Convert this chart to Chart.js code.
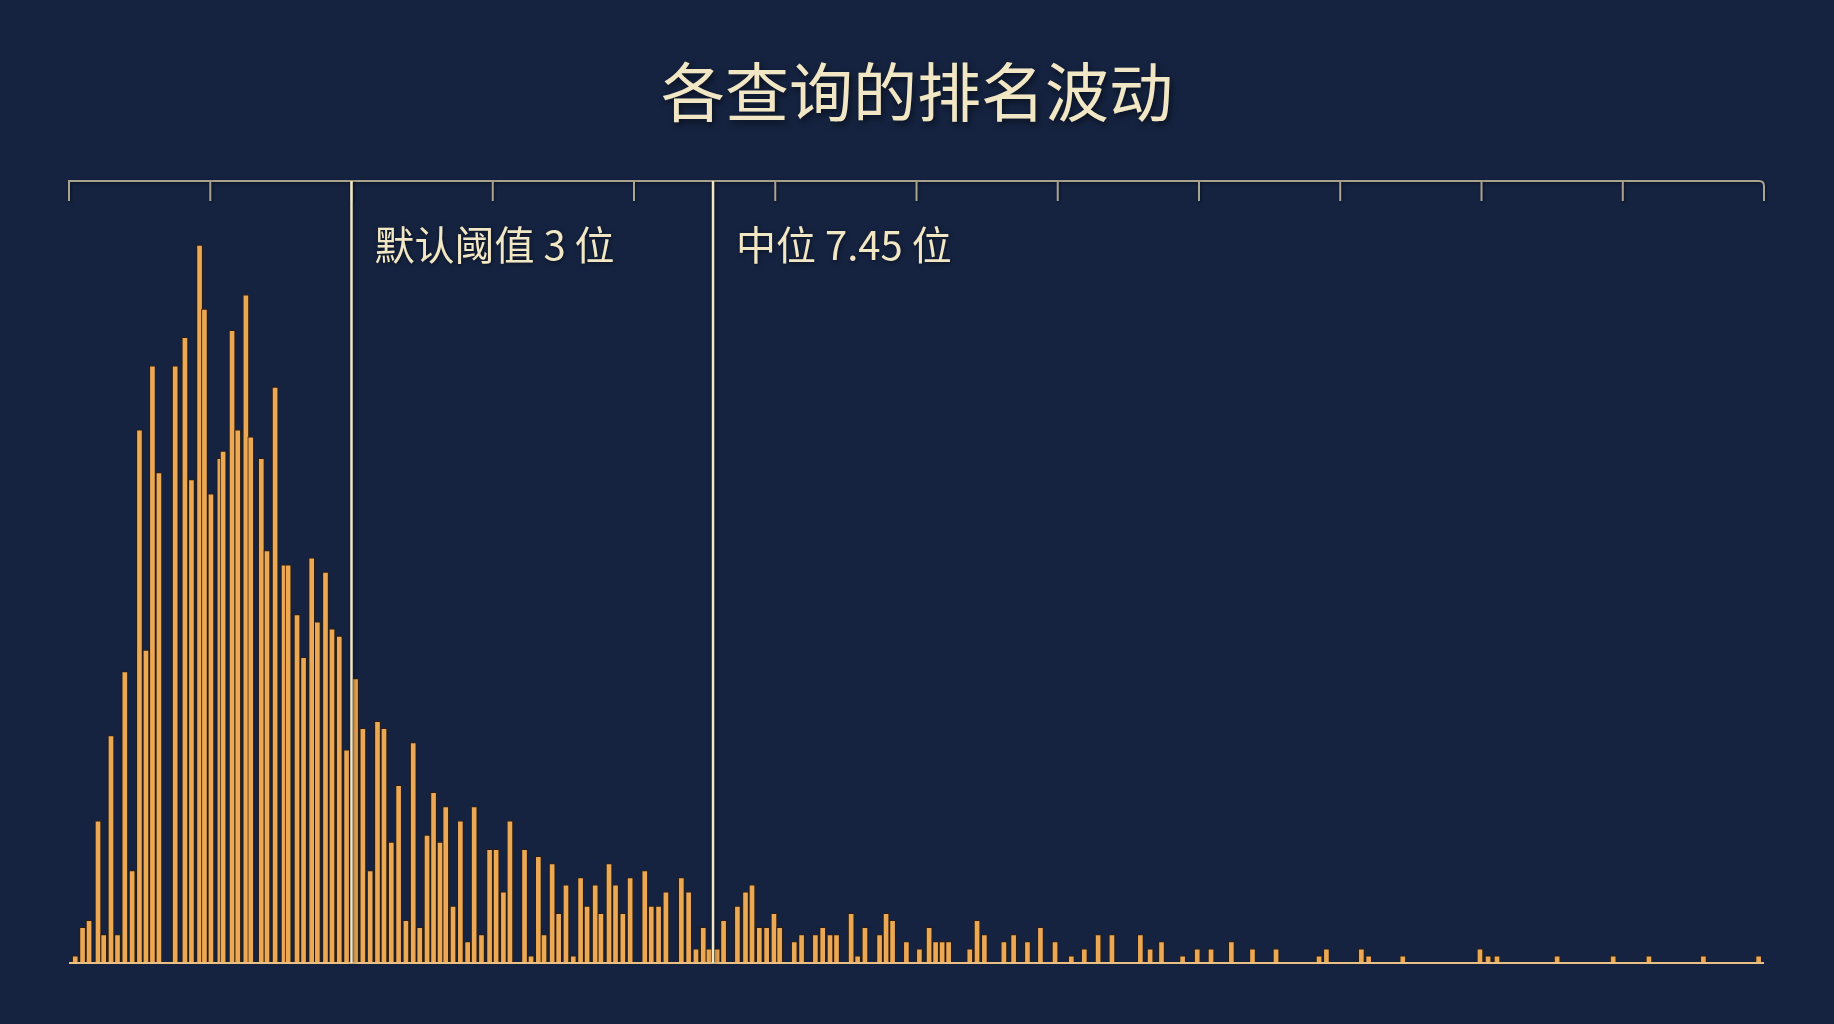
<!DOCTYPE html>
<html lang="zh">
<head>
<meta charset="utf-8">
<title>各查询的排名波动</title>
<script src="https://cdn.jsdelivr.net/npm/chart.js@4.4.1/dist/chart.umd.min.js"></script>
<style>
  html, body { margin: 0; padding: 0; background: #152340; overflow: hidden; }
  #wrap { width: 1834px; height: 1024px; position: relative; }
</style>
</head>
<body>
<div id="wrap"><canvas id="chart"></canvas></div>
<script>
const chartTitle = '各查询的排名波动';

// rank fluctuation (positions) of each bar, and how many queries fall there
const binPos = [
  -0.40, -0.31, -0.23, -0.12, -0.05, 0.04, 0.12, 0.21, 0.30, 0.39,
  0.47, 0.55, 0.63, 0.83, 0.95, 1.03, 1.13, 1.19, 1.27, 1.38,
  1.42, 1.53, 1.60, 1.70, 1.76, 1.89, 1.96, 2.06, 2.17, 2.22,
  2.33, 2.41, 2.51, 2.58, 2.68, 2.76, 2.85, 2.94,
  3.05, 3.14, 3.23, 3.32, 3.40, 3.49, 3.58, 3.67, 3.76, 3.84,
  3.93, 4.01, 4.09, 4.16, 4.25, 4.34, 4.43, 4.51, 4.60, 4.70,
  4.78, 4.87, 4.95, 5.13, 5.21, 5.30, 5.37, 5.47, 5.55, 5.64,
  5.73, 5.82, 5.90, 6.00, 6.07, 6.17, 6.25, 6.34, 6.43, 6.61,
  6.69, 6.78, 6.87, 7.06, 7.15, 7.24, 7.33, 7.40, 7.50, 7.58,
  7.75, 7.85, 7.93, 8.02, 8.11, 8.20, 8.27, 8.45, 8.54, 8.71,
  8.80, 8.89, 8.97, 9.15, 9.23, 9.32, 9.50, 9.58, 9.66, 9.83,
  9.99, 10.11, 10.19, 10.27, 10.35, 10.61, 10.70, 10.79, 11.03, 11.15,
  11.32, 11.48, 11.66, 11.86,
  12.02, 12.19, 12.36, 12.71, 12.83, 12.97, 13.23, 13.41, 13.58, 13.83,
  14.09, 14.38, 14.91, 15.00, 15.43, 15.52, 15.94, 16.89, 16.99, 17.10,
  17.84, 18.53, 18.97, 19.64, 20.32
];
const binCount = [
  1, 5, 6, 20, 4, 32, 4, 41, 13, 75,
  44, 84, 69, 84, 88, 68, 101, 92, 66, 71,
  72, 89, 75, 94, 74, 71, 58, 81, 56, 56,
  49, 43, 57, 48, 55, 47, 46, 30,
  40, 33, 13, 34, 33, 17, 25, 6, 31, 5,
  18, 24, 17, 22, 8, 20, 3, 22, 4, 16,
  16, 10, 20, 16, 1, 15, 4, 14, 7, 11,
  1, 12, 8, 11, 7, 14, 11, 7, 12, 13,
  8, 8, 10, 12, 10, 2, 5, 2, 2, 6,
  8, 10, 11, 5, 5, 7, 5, 3, 4, 4,
  5, 4, 4, 7, 1, 5, 4, 7, 6, 3,
  2, 5, 3, 3, 3, 2, 6, 4, 3, 4,
  3, 5, 3, 1,
  2, 4, 4, 4, 2, 3, 1, 2, 2, 3,
  2, 2, 1, 2, 2, 1, 1, 2, 1, 1,
  1, 1, 1, 1, 1
];

// unlabeled tick marks along the top axis
const axisTicks = [-0.477, 1.262, 3.000, 4.739, 6.477, 8.216, 9.955, 11.693, 13.432, 15.170, 16.909, 18.648, 20.386];

const refLines = [
  { value: 3, label: '默认阈值 3 位' },
  { value: 7.45, label: '中位 7.45 位' }
];

const cream = '#f2e7c4';
const fontCJK = '"Noto Sans CJK SC", "Noto Sans", sans-serif';

const decor = {
  id: 'decor',
  beforeDatasetsDraw(chart) {
    const { ctx, chartArea: a, scales: { x } } = chart;
    ctx.save();
    // title
    ctx.font = '400 64px ' + fontCJK;
    ctx.fillStyle = cream;
    ctx.textAlign = 'center';
    ctx.textBaseline = 'middle';
    ctx.shadowColor = 'rgba(0,0,0,0.55)';
    ctx.shadowBlur = 6;
    ctx.shadowOffsetX = 2;
    ctx.shadowOffsetY = 3;
    ctx.fillText(chartTitle, chart.width / 2, 92);

    // top axis with downward ticks
    ctx.shadowBlur = 3;
    ctx.shadowOffsetX = 1;
    ctx.shadowOffsetY = 1;
    ctx.strokeStyle = '#aaa390';
    ctx.lineWidth = 2;
    const tl = 20;
    const right = x.getPixelForValue(axisTicks[axisTicks.length - 1]);
    const left = x.getPixelForValue(axisTicks[0]);
    ctx.beginPath();
    ctx.moveTo(left, a.top + tl);
    ctx.lineTo(left, a.top);
    ctx.lineTo(right - 5, a.top);
    ctx.quadraticCurveTo(right, a.top, right, a.top + 5);
    ctx.lineTo(right, a.top + tl);
    ctx.stroke();
    axisTicks.slice(1, -1).forEach(v => {
      const px = x.getPixelForValue(v);
      ctx.beginPath();
      ctx.moveTo(px, a.top);
      ctx.lineTo(px, a.top + tl);
      ctx.stroke();
    });
    ctx.restore();
  },
  afterDatasetsDraw(chart) {
    const { ctx, chartArea: a, scales: { x, y } } = chart;
    ctx.save();
    // baseline
    const y0 = y.getPixelForValue(0);
    ctx.strokeStyle = '#e9bf84';
    ctx.lineWidth = 2;
    ctx.beginPath();
    ctx.moveTo(a.left, y0);
    ctx.lineTo(a.right, y0);
    ctx.stroke();

    // reference lines + labels
    ctx.shadowColor = 'rgba(0,0,0,0.5)';
    ctx.shadowBlur = 4;
    ctx.shadowOffsetX = 1;
    ctx.shadowOffsetY = 1;
    refLines.forEach(r => {
      const px = x.getPixelForValue(r.value);
      ctx.strokeStyle = cream;
      ctx.lineWidth = 2.5;
      ctx.beginPath();
      ctx.moveTo(px, a.top);
      ctx.lineTo(px, y0);
      ctx.stroke();
      ctx.font = '40px ' + fontCJK;
      ctx.fillStyle = cream;
      ctx.textAlign = 'left';
      ctx.textBaseline = 'middle';
      ctx.fillText(r.label, px + 23, 245);
    });
    ctx.restore();
  }
};

new Chart(document.getElementById('chart'), {
  type: 'bar',
  data: {
    datasets: [{
      data: binPos.map((p, i) => ({ x: p, y: binCount[i] })),
      backgroundColor: '#eca853',
      borderColor: 'rgba(45, 28, 10, 0.9)',
      borderWidth: 1,
      barThickness: 6
    }]
  },
  options: {
    responsive: true,
    maintainAspectRatio: false,
    animation: false,
    devicePixelRatio: 1,
    layout: { padding: { left: 69, right: 70, top: 181, bottom: 61 } },
    plugins: {
      legend: { display: false },
      title: { display: false },
      tooltip: { enabled: false }
    },
    scales: {
      x: {
        type: 'linear',
        display: false,
        offset: false,
        min: axisTicks[0],
        max: axisTicks[axisTicks.length - 1]
      },
      y: {
        display: false,
        min: 0,
        max: 110
      }
    }
  },
  plugins: [decor]
});
</script>
</body>
</html>
